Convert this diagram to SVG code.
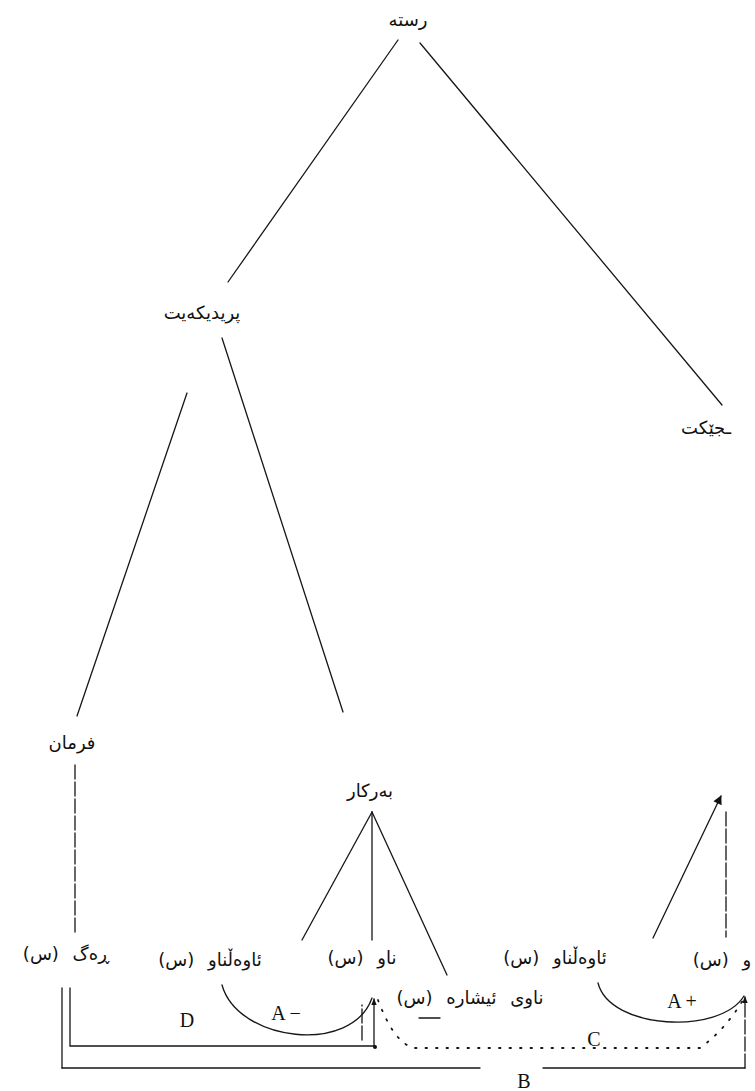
<svg xmlns="http://www.w3.org/2000/svg" width="755" height="1091" viewBox="0 0 755 1091">
<defs>
<style>
.ar{font-family:"DejaVu Sans","Noto Sans",sans-serif;font-size:18px;fill:#111;direction:rtl;word-spacing:8px}
.lt{font-family:"Liberation Serif",serif;font-size:20px;fill:#111}
.ln{stroke:#161616;stroke-width:1.3;fill:none;stroke-linecap:round}
.dash{stroke-dasharray:14 3}
.dot{stroke-dasharray:1.5 9;stroke-width:1.8}
</style>
<marker id="arr" viewBox="0 0 10 10" refX="9" refY="5" markerWidth="7" markerHeight="7" orient="auto" markerUnits="userSpaceOnUse">
<path d="M0,1 L10,5 L0,9 z" fill="#111"/>
</marker>
<marker id="arrBig" viewBox="0 0 10 10" refX="9" refY="5" markerWidth="11" markerHeight="9" orient="auto" markerUnits="userSpaceOnUse">
<path d="M0,0 L10,5 L0,10 z" fill="#111"/>
</marker>
</defs>
<rect width="755" height="1091" fill="#fff"/>

<g id="connectors">
<path class="ln" d="M398,40 L228,282" stroke-width="1.6"/>
<path class="ln" d="M420,43 L722,405"/>
<path class="ln" d="M187,393 L77,716"/>
<path class="ln" d="M222,338 L343,712"/>
<path class="ln dash" d="M75,765 L75,935"/>
<path class="ln" d="M372,812 L302,940"/>
<path class="ln" d="M372,812 L372,940"/>
<path class="ln" d="M372,812 L447,975"/>
<path class="ln" d="M653,938 L721,796" marker-end="url(#arrBig)" stroke-width="1.6"/>
<path class="ln dash" d="M726,812 L726,937"/>
<path class="ln" d="M222,985 C238,1042 352,1055 372,998"/>
<path class="ln" d="M598,983 C610,1030 720,1035 744,996"/>
<path class="ln dot" d="M378,1000 Q395,1045 415,1048 L700,1048 Q725,1030 743,1000"/>
<path class="ln" d="M62,988 L62,1068"/>
<path class="ln" d="M70,988 L70,1046 L375,1046"/>
<path class="ln" d="M374,1046 L374,999" marker-end="url(#arr)"/>
<path class="ln dash" d="M362,1040 L362,1005"/>
<circle cx="375" cy="1047" r="2" fill="#111"/>
<path class="ln" d="M62,1068 L480,1068"/>
<path class="ln" d="M543,1068 L745,1068"/>
<path class="ln dash" d="M745,1068 L745,997" marker-end="url(#arr)"/>
<path class="ln" d="M419,1018 L440,1018"/>
</g>

<g id="n-root"><text class="ar" x="408" y="26" text-anchor="middle" font-size="15">رستە</text></g>
<g id="n-predicate"><text class="ar" x="202" y="319" text-anchor="middle" font-size="20">پریدیکەیت</text></g>
<g id="n-subject"><text class="ar" x="706" y="434" text-anchor="middle" font-size="20">ـجێکت</text></g>
<g id="n-verb"><text class="ar" x="72" y="749" text-anchor="middle" font-size="18">فرمان</text></g>
<g id="n-object"><text class="ar" x="370" y="797" text-anchor="middle" font-size="19">بەرکار</text></g>

<g id="n-root-morph"><text class="ar" x="66" y="960" text-anchor="middle">ڕەگ (س)</text></g>
<g id="n-adj1"><text class="ar" x="210" y="966" text-anchor="middle">ئاوەڵناو (س)</text></g>
<g id="n-noun1"><text class="ar" x="362" y="964" text-anchor="middle">ناو (س)</text></g>
<g id="n-dem"><text class="ar" x="470" y="1004" text-anchor="middle">ناوی ئیشارە (س)</text></g>
<g id="n-adj2"><text class="ar" x="555" y="964" text-anchor="middle">ئاوەڵناو (س)</text></g>
<g id="n-noun2"><text class="ar" x="722" y="966" text-anchor="middle">و (س)</text></g>

<g id="labels">
<text class="lt" x="187" y="1027" text-anchor="middle">D</text>
<text class="lt" x="286" y="1020" text-anchor="middle">A −</text>
<text class="lt" x="682" y="1008" text-anchor="middle" font-size="18">A +</text>
<text class="lt" x="594" y="1046" text-anchor="middle">C</text>
<text class="lt" x="524" y="1088" text-anchor="middle">B</text>
</g>
</svg>
